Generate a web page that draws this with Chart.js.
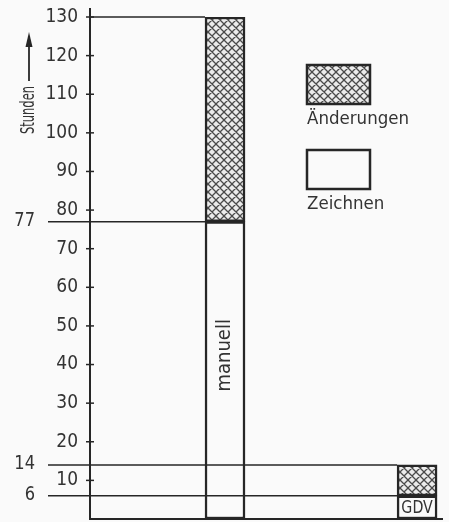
<!DOCTYPE html>
<html>
<head>
<meta charset="utf-8">
<script src="https://cdn.jsdelivr.net/npm/chart.js@4"></script>
<style>
  html, body { margin: 0; padding: 0; background: #fafafa; }
  #wrap { width: 449px; height: 522px; }
</style>
</head>
<body>
<div id="wrap"><canvas id="chart"></canvas></div>
<script>
const categories = ['manuell', 'GDV'];
const zeichnen = [77, 6];
const aenderungen = [53, 8];
const seriesNames = ['Zeichnen', 'Änderungen'];
const yMax = 130;
const yStep = 10;
const axisTitle = 'Stunden';

const FONT = "'Liberation Sans Narrow', 'DejaVu Sans Condensed', 'DejaVu Sans', sans-serif";
const INK = '#262626';
const TEXT = '#333';
const PAPER = '#fafafa';

function crossHatch() {
  const c = document.createElement('canvas');
  c.width = 8; c.height = 8;
  const g = c.getContext('2d');
  g.fillStyle = '#ebebeb';
  g.fillRect(0, 0, 8, 8);
  g.strokeStyle = '#4a4a4a';
  g.lineWidth = 1.3;
  g.beginPath();
  for (let k = -8; k <= 8; k += 8) {
    g.moveTo(k, 0); g.lineTo(k + 8, 8);
    g.moveTo(k + 8, 0); g.lineTo(k, 8);
  }
  g.stroke();
  return g.createPattern(c, 'repeat');
}

const fills = [PAPER, crossHatch()];

// condensed text, rotated if asked
function label(ctx, text, x, y, rot, size, squeeze, align) {
  ctx.save();
  ctx.translate(x, y);
  if (rot) ctx.rotate(rot);
  ctx.scale(squeeze, 1);
  ctx.font = size + "px " + FONT;
  ctx.textAlign = align || 'center';
  ctx.textBaseline = align === 'left' ? 'alphabetic' : 'middle';
  ctx.fillText(text, 0, 0);
  ctx.restore();
}

// axes, tick marks, level lines, labels and legend
const decorations = {
  id: 'decorations',
  afterDatasetsDraw(chart) {
    const { ctx, chartArea: area, scales: { y } } = chart;
    ctx.save();
    ctx.strokeStyle = INK;
    ctx.fillStyle = TEXT;

    // level lines from the top of each segment back to the axis
    ctx.lineWidth = 1.5;
    categories.forEach((cat, i) => {
      let total = 0;
      chart.data.datasets.forEach((ds, d) => {
        const el = chart.getDatasetMeta(d).data[i];
        total += ds.data[i].y;
        const marked = total % yStep !== 0;
        const x0 = marked ? area.left - 42 : area.left;
        ctx.beginPath();
        ctx.moveTo(x0, el.y);
        ctx.lineTo(el.x - el.width / 2, el.y);
        ctx.stroke();
        if (marked) label(ctx, String(total), area.left - 55, el.y - 1, 0, 19, 0.95, 'right');
      });
    });

    // axes
    ctx.lineWidth = 2;
    ctx.beginPath();
    ctx.moveTo(area.left, area.top - 9);
    ctx.lineTo(area.left, area.bottom);
    ctx.lineTo(area.right, area.bottom);
    ctx.stroke();

    ctx.lineWidth = 1.5;
    for (let v = yStep; v <= yMax; v += yStep) {
      const py = y.getPixelForValue(v);
      ctx.beginPath();
      ctx.moveTo(area.left - 4, py);
      ctx.lineTo(area.left + 4, py);
      ctx.stroke();
    }

    // axis title with arrow
    const tx = 29;
    label(ctx, axisTitle, tx, 110, -Math.PI / 2, 20, 0.64);
    ctx.lineWidth = 1.8;
    ctx.beginPath();
    ctx.moveTo(tx, 81);
    ctx.lineTo(tx, 44);
    ctx.stroke();
    ctx.fillStyle = INK;
    ctx.beginPath();
    ctx.moveTo(tx, 32);
    ctx.lineTo(tx - 3.5, 47);
    ctx.lineTo(tx + 3.5, 47);
    ctx.closePath();
    ctx.fill();

    // category names inside the lower segment
    ctx.fillStyle = TEXT;
    const base = chart.getDatasetMeta(0).data;
    label(ctx, categories[0], base[0].x, (base[0].y + base[0].base) / 2 - 15, -Math.PI / 2, 20, 1);
    label(ctx, categories[1], base[1].x, (base[1].y + base[1].base) / 2 + 1, 0, 17, 0.93);

    // legend: hatched entry on top
    const lx = area.right - 136;
    [1, 0].forEach((d, k) => {
      const by = 65 + k * 85;
      ctx.fillStyle = chart.data.datasets[d].backgroundColor;
      ctx.fillRect(lx, by, 63, 39);
      ctx.lineWidth = 2.5;
      ctx.strokeStyle = INK;
      ctx.strokeRect(lx, by, 63, 39);
      ctx.fillStyle = TEXT;
      label(ctx, chart.data.datasets[d].label, lx, by + 59, 0, 18.5, 1, 'left');
    });
    ctx.restore();
  }
};

new Chart(document.getElementById('chart'), {
  type: 'bar',
  data: {
    datasets: seriesNames.map((name, d) => ({
      label: name,
      data: (d === 0 ? zeichnen : aenderungen).map((v, i) => ({ x: i, y: v })),
      backgroundColor: fills[d],
      borderColor: INK,
      borderWidth: 2.5,
      borderSkipped: false,
      barThickness: 40
    }))
  },
  options: {
    responsive: true,
    maintainAspectRatio: false,
    animation: false,
    layout: { padding: { top: 17, right: 6, bottom: 3, left: 0 } },
    plugins: {
      legend: { display: false },
      tooltip: { enabled: false }
    },
    scales: {
      x: {
        type: 'linear',
        stacked: true,
        offset: false,
        min: -0.703,
        max: 1.135,
        display: false
      },
      y: {
        stacked: true,
        min: 0,
        max: yMax,
        grid: { display: false },
        border: { display: false },
        ticks: {
          stepSize: yStep,
          padding: 4,
          color: TEXT,
          font: { family: FONT, size: 19 },
          callback: v => (v === 0 ? '' : v)
        },
        afterFit: s => {
          s.width = 90;
          s.paddingTop = 0;
          s.paddingBottom = 0;
        }
      }
    }
  },
  plugins: [decorations]
});
</script>
</body>
</html>
